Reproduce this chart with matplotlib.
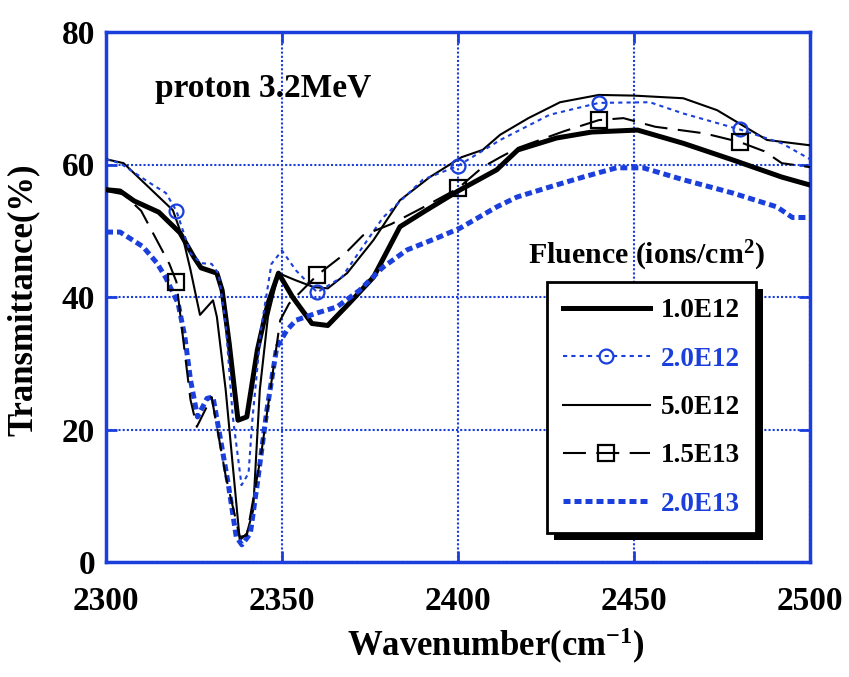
import matplotlib
matplotlib.use("Agg")
import matplotlib.pyplot as plt
from matplotlib.patches import Rectangle

plt.rcParams["font.family"] = "Liberation Serif"
plt.rcParams["font.weight"] = "bold"
plt.rcParams["mathtext.default"] = "regular"

BLUE = "#1a3fdc"

# transmittance spectra after proton irradiation, one array pair per fluence
wn_1e12 = [2300, 2304, 2308, 2315, 2321, 2325, 2327, 2331.5, 2333, 2335, 2337.5, 2340,
           2343, 2346, 2349, 2353, 2358.5, 2363, 2369, 2376, 2383.5, 2391, 2400, 2411,
           2417, 2428, 2438, 2451, 2464, 2478, 2492, 2500]
tr_1e12 = [56.2, 56.0, 54.5, 52.8, 49.7, 46.0, 44.4, 43.6, 41.0, 33.0, 21.4, 21.9,
           32.0, 39.0, 43.6, 40.0, 36.0, 35.7, 39.0, 43.0, 50.6, 53.1, 56.0, 59.2,
           62.2, 64.0, 64.9, 65.2, 63.2, 60.7, 58.1, 56.9]

wn_2e12 = [2300, 2304, 2312.5, 2317, 2320, 2324, 2327, 2330, 2332, 2334, 2336, 2338.5,
           2340.5, 2341.5, 2344, 2347, 2350, 2354, 2360, 2367, 2378.7, 2390, 2400, 2412,
           2426, 2440, 2454.5, 2464, 2480, 2492, 2500]
tr_2e12 = [60.8, 60.2, 57.2, 55.7, 53.0, 46.6, 45.1, 45.0, 43.5, 36.0, 22.0, 11.6,
           13.4, 21.0, 35.0, 45.0, 47.0, 44.0, 40.7, 43.0, 52.0, 57.7, 59.8, 63.7,
           67.5, 69.3, 69.4, 67.7, 65.3, 63.2, 60.8]

wn_5e12 = [2300, 2305, 2310.5, 2319, 2322, 2324, 2326.7, 2330.4, 2331.5, 2334, 2338, 2340,
           2341.8, 2343.7, 2346, 2349, 2354, 2359, 2363, 2368.5, 2376, 2383.5, 2392, 2401,
           2407, 2412, 2420, 2429, 2440, 2450, 2464, 2473.6, 2487.8, 2500]
tr_5e12 = [60.8, 60.2, 57.4, 53.1, 48.6, 44.1, 37.3, 39.5, 37.0, 26.0, 3.3, 4.3,
           7.8, 26.0, 37.0, 43.6, 42.5, 41.5, 41.3, 43.6, 48.6, 54.6, 58.1, 61.1,
           62.2, 64.5, 67.0, 69.4, 70.5, 70.4, 70.0, 68.2, 63.7, 62.9]

wn_15e13 = [2300, 2305, 2310, 2314, 2318, 2320, 2322.4, 2324, 2325.8, 2330, 2334, 2338,
            2340, 2344, 2349.5, 2352, 2360, 2368, 2373, 2381, 2390, 2400, 2407, 2412,
            2417, 2430, 2440, 2447, 2456, 2463, 2470, 2480, 2487, 2492, 2500]
tr_15e13 = [56.0, 55.5, 53.0, 49.0, 45.0, 42.3, 31.5, 24.5, 20.4, 24.9, 13.0, 3.8,
            4.0, 16.0, 36.5, 39.0, 43.3, 46.6, 49.3, 51.0, 53.5, 56.4, 59.6, 61.1,
            62.5, 65.0, 66.7, 67.0, 65.7, 65.2, 64.7, 63.4, 62.0, 60.2, 59.6]

wn_2e13 = [2300, 2304, 2310.5, 2314.5, 2317, 2320.5, 2322.4, 2324, 2326, 2328.7, 2330.4,
           2332.4, 2334.7, 2337, 2338.6, 2341, 2343, 2345.7, 2348.5, 2351.4, 2354, 2360,
           2365.6, 2372, 2378.7, 2385.5, 2394, 2400.6, 2411, 2416.8, 2426, 2435.5, 2445,
           2452.6, 2464, 2478, 2490.6, 2495, 2500]
tr_2e13 = [49.8, 49.8, 47.6, 45.1, 42.9, 39.0, 34.0, 27.5, 21.9, 24.7, 24.9,
           18.9, 11.9, 3.8, 2.6, 4.3, 11.9, 22.9, 32.4, 35.0, 36.5, 37.6,
           38.5, 41.0, 44.5, 47.1, 48.9, 50.4, 53.6, 55.1, 56.6, 58.1, 59.5,
           59.5, 57.7, 55.7, 53.6, 52.0, 52.0]

marker_wn = [2320, 2360, 2400, 2440, 2480]
labels = ["1.0E12", "2.0E12", "5.0E12", "1.5E13", "2.0E13"]
x_ticks = [2300, 2350, 2400, 2450, 2500]
y_ticks = [0, 20, 40, 60, 80]


def marker_idx(xs):
    return [xs.index(m) for m in marker_wn if m in xs]


fig = plt.figure(figsize=(8.49, 6.77), dpi=100)
ax = fig.add_axes([106 / 849, 115 / 677, 704 / 849, 530 / 677])

ax.plot(wn_1e12, tr_1e12, color="black", lw=3.6, label=labels[0], zorder=3)
ax.plot(wn_2e12, tr_2e12, color=BLUE, lw=1.5, ls=(0, (2, 2)), marker="o", ms=10,
        mfc="none", mec=BLUE, mew=1.6, markevery=marker_idx(wn_2e12),
        label=labels[1], zorder=4)
ax.plot(wn_5e12, tr_5e12, color="black", lw=1.5, label=labels[2], zorder=3)
ax.plot(wn_15e13, tr_15e13, color="black", lw=1.5, ls=(0, (11, 5)), marker="s", ms=11,
        mfc="none", mec="black", mew=1.6, markevery=marker_idx(wn_15e13),
        label=labels[3], zorder=4)
ax.plot(wn_2e13, tr_2e13, color=BLUE, lw=3.6, ls=(0, (1.4, 0.8)), label=labels[4],
        zorder=3)

ax.set_xlim(2300, 2500)
ax.set_ylim(0, 80)
ax.set_xticks(x_ticks)
ax.set_yticks(y_ticks)
ax.grid(True, color=BLUE, lw=1.5, ls=(0, (1, 1)))
ax.set_axisbelow(True)
for sp in ax.spines.values():
    sp.set_color(BLUE)
    sp.set_linewidth(2.5)
ax.tick_params(axis="both", direction="in", length=8, width=2, color=BLUE,
               top=True, right=True, labelsize=24)
ax.tick_params(axis="x", pad=17)
ax.tick_params(axis="y", pad=8)

ax.set_xlabel("Wavenumber(cm$^{-1}$)", fontsize=25, fontweight="bold")
ax.xaxis.set_label_coords(0.554, -0.12)
ax.set_ylabel("Transmittance(%)", fontsize=25, fontweight="bold")
ax.yaxis.set_label_coords(-0.094, 0.494)

ax.text(0.07, 0.894, "proton 3.2MeV", transform=ax.transAxes, fontsize=24,
        fontweight="bold", va="center", ha="left")
ax.text(0.767, 0.577, "Fluence (ions/cm$^{2}$)", transform=ax.transAxes,
        fontsize=21.5, fontweight="bold", va="center", ha="center")

leg = ax.legend(loc="upper left", bbox_to_anchor=(0.626, 0.528), borderaxespad=0,
                fancybox=False, framealpha=1, edgecolor="black",
                prop={"family": "Liberation Serif", "weight": "bold", "size": 19.5},
                handlelength=3.2, handletextpad=0.4, labelspacing=0.86,
                borderpad=0.6)
leg.get_frame().set_linewidth(2)
leg.set_zorder(6)
for txt, col in zip(leg.get_texts(), ["black", BLUE, "black", "black", BLUE]):
    txt.set_color(col)

# solid drop shadow under the legend box
fig.canvas.draw()
bb = leg.get_frame().get_window_extent().transformed(ax.transAxes.inverted())
shadow = Rectangle((bb.x0 + 7 / 704, bb.y0 - 7 / 530), bb.width, bb.height,
                   transform=ax.transAxes, facecolor="black", edgecolor="none",
                   clip_on=False, zorder=5.5)
ax.add_patch(shadow)

fig.savefig("out.png", dpi=100)
